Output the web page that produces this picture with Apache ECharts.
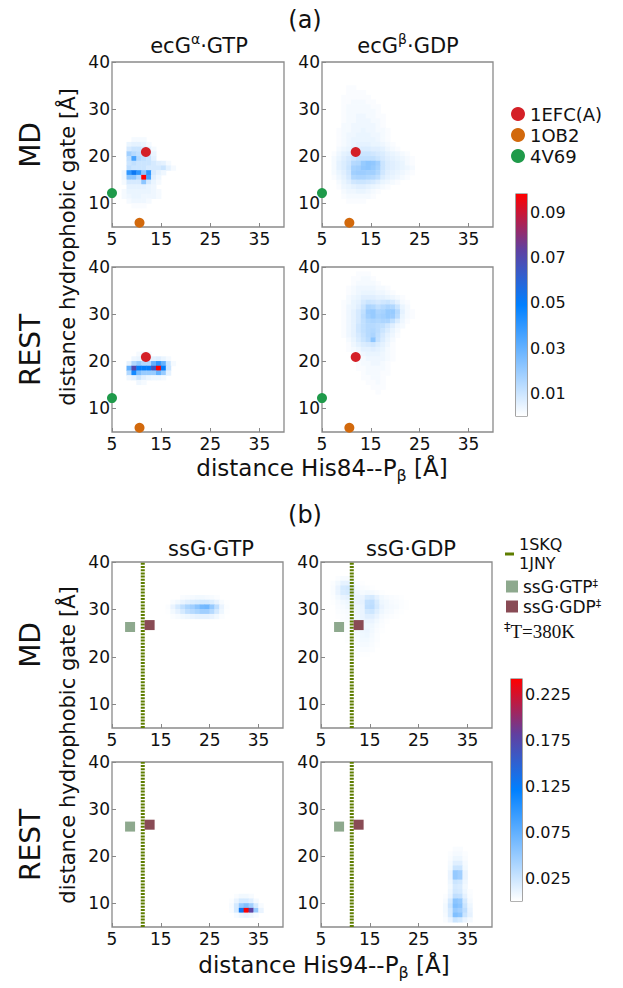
<!DOCTYPE html>
<html>
<head>
<meta charset="utf-8">
<title>hydrophobic gate distance maps</title>
<script src="https://cdn.jsdelivr.net/npm/echarts@6.0.0/dist/echarts.min.js"></script>
<style>
  html, body { margin: 0; padding: 0; background: #fff; }
  #chart { width: 623px; height: 988px; }
</style>
</head>
<body>
<div id="chart"></div>
<script>
// 1 A bins from 5 to 40 on both axes
const binStart = 5;
const binCount = 35;
const xTicks = [5, 15, 25, 35];
const yTicks = [10, 20, 30, 40];
const cbTicksA = [0.01, 0.03, 0.05, 0.07, 0.09];
const cbTicksB = [0.025, 0.075, 0.125, 0.175, 0.225];
const cbMaxA = 0.098;
const cbMaxB = 0.242;

// reference structures, part (a)
const ecgRefNames = ['1EFC(A)', '1OB2', '4V69'];
const ecgRefPoints = [[11.9, 20.9], [10.6, 5.9], [5.0, 12.2]];
// part (b)
const ssgLineName = '1SKQ\n1JNY';
const ssgLineX = 11.3;
const ssgRefNames = ['ssG·GTP‡', 'ssG·GDP‡'];
const ssgRefPoints = [[8.7, 26.3], [12.7, 26.7]];

// heat maps: rows top -> bottom, origin = [first x bin, top y bin]
const ecgAlphaMDOrigin = [7, 23];
const ecgAlphaMD = [
  [0, 0, .002, .002, .002, 0, 0, 0, 0, 0, 0],
  [0, .004, .005, .005, .004, .002, 0, 0, 0, 0, 0],
  [0, .008, .01, .01, .008, .005, .002, 0, 0, 0, 0],
  [0, .018, .014, .012, .01, .008, .004, 0, 0, 0, 0],
  [0, .012, .035, .014, .012, .01, .005, 0, 0, 0, 0],
  [0, .01, .012, .01, .01, .01, .008, .006, .005, .002, 0],
  [0, .012, .01, .01, .01, .008, .008, .008, .01, .005, .002],
  [.003, .04, .052, .04, .022, .04, .008, .005, .003, 0, 0],
  [.003, .022, .022, .014, .098, .035, .006, .003, 0, 0, 0],
  [.002, .008, .008, .008, .022, .008, .004, .002, 0, 0, 0],
  [0, .005, .005, .005, .005, .004, .003, 0, 0, 0, 0],
  [.002, .004, .004, .004, .004, .004, .003, .002, 0, 0, 0],
  [.002, .003, .004, .004, .003, .003, .003, .002, 0, 0, 0],
  [0, .002, .003, .003, .003, .002, 0, 0, 0, 0, 0],
  [0, 0, .001, .001, .001, 0, 0, 0, 0, 0, 0]
];

const ecgBetaMDOrigin = [7, 34];
const ecgBetaMD = [
  [0, 0, 0, .001, .001, 0, 0, 0, 0, 0, 0, 0, 0, 0, 0, 0, 0],
  [0, 0, 0, .001, .001, .001, .001, 0, 0, 0, 0, 0, 0, 0, 0, 0, 0],
  [0, 0, .001, .001, .001, .001, .001, .001, 0, 0, 0, 0, 0, 0, 0, 0, 0],
  [0, 0, .001, .001, .002, .002, .002, .001, .001, 0, 0, 0, 0, 0, 0, 0, 0],
  [0, 0, .001, .002, .002, .002, .002, .002, .001, .001, 0, 0, 0, 0, 0, 0, 0],
  [0, 0, .001, .002, .002, .002, .002, .002, .002, .001, 0, 0, 0, 0, 0, 0, 0],
  [0, 0, .001, .002, .002, .003, .003, .002, .002, .001, .001, 0, 0, 0, 0, 0, 0],
  [0, 0, .001, .002, .002, .003, .003, .003, .002, .002, .001, 0, 0, 0, 0, 0, 0],
  [0, 0, .002, .002, .003, .003, .003, .003, .003, .002, .001, 0, 0, 0, 0, 0, 0],
  [0, .001, .002, .002, .003, .003, .004, .003, .003, .002, .002, .001, 0, 0, 0, 0, 0],
  [0, .001, .002, .003, .003, .004, .004, .004, .003, .003, .002, .001, 0, 0, 0, 0, 0],
  [0, .001, .002, .003, .004, .004, .004, .004, .004, .003, .002, .001, 0, 0, 0, 0, 0],
  [0, .001, .002, .003, .004, .005, .005, .005, .004, .004, .003, .002, .001, 0, 0, 0, 0],
  [0, .002, .003, .004, .006, .006, .007, .007, .006, .006, .005, .003, .002, .001, 0, 0, 0],
  [.001, .003, .005, .006, .008, .009, .01, .01, .009, .008, .007, .005, .004, .003, .002, .001, 0],
  [.002, .004, .006, .008, .01, .012, .012, .012, .012, .01, .008, .006, .005, .004, .003, .002, .001],
  [.002, .005, .007, .009, .014, .015, .02, .022, .021, .018, .01, .007, .006, .005, .004, .002, .001],
  [.002, .005, .007, .01, .017, .018, .021, .022, .02, .017, .01, .007, .006, .005, .004, .003, .002],
  [.002, .004, .006, .009, .018, .019, .019, .018, .018, .015, .009, .006, .005, .004, .003, .002, .001],
  [.001, .003, .005, .008, .015, .016, .016, .015, .014, .012, .007, .005, .004, .003, .002, .001, 0],
  [0, .002, .004, .006, .009, .01, .01, .009, .008, .006, .004, .003, .002, .001, 0, 0, 0],
  [0, .001, .003, .004, .005, .006, .006, .005, .004, .003, .002, .001, 0, 0, 0, 0, 0],
  [0, 0, .002, .003, .003, .004, .004, .003, .002, .001, 0, 0, 0, 0, 0, 0, 0],
  [0, 0, .001, .002, .002, .002, .002, .002, .001, 0, 0, 0, 0, 0, 0, 0, 0],
  [0, 0, 0, .001, .001, .001, .001, 0, 0, 0, 0, 0, 0, 0, 0, 0, 0]
];

const ecgAlphaRESTOrigin = [7, 21];
const ecgAlphaREST = [
  [0, 0, 0, .002, .003, .002, 0, 0, 0, 0, 0],
  [0, 0, .003, .004, .004, .004, .005, .006, .004, .002, 0],
  [0, .005, .015, .02, .015, .015, .03, .04, .03, .01, .002],
  [0, .03, .07, .05, .05, .05, .065, .098, .05, .01, 0],
  [0, .015, .045, .025, .02, .02, .02, .03, .02, .005, 0],
  [0, .003, .005, .01, .006, .004, .003, .003, .002, 0, 0],
  [0, 0, 0, .003, .002, 0, 0, 0, 0, 0, 0]
];

const ecgBetaRESTOrigin = [9, 38];
const ecgBetaREST = [
  [0, 0, 0, .001, .001, .001, 0, 0, 0, 0, 0, 0, 0, 0, 0],
  [0, 0, .001, .001, .002, .002, .001, 0, 0, 0, 0, 0, 0, 0, 0],
  [0, 0, .001, .002, .002, .002, .002, .001, 0, 0, 0, 0, 0, 0, 0],
  [0, .001, .002, .003, .003, .003, .003, .002, .002, .001, 0, 0, 0, 0, 0],
  [0, .001, .002, .003, .004, .004, .004, .003, .003, .002, .001, 0, 0, 0, 0],
  [0, .002, .003, .004, .006, .006, .006, .005, .005, .004, .003, .002, .001, 0, 0],
  [.001, .002, .004, .005, .008, .01, .009, .008, .009, .01, .008, .005, .002, .001, 0],
  [.001, .003, .004, .006, .01, .016, .015, .012, .014, .016, .015, .01, .004, .002, 0],
  [.001, .003, .005, .008, .012, .019, .02, .016, .017, .02, .02, .014, .005, .002, .001],
  [.001, .003, .005, .008, .013, .018, .02, .017, .018, .02, .019, .013, .004, .002, .001],
  [.001, .003, .005, .008, .012, .015, .016, .015, .016, .016, .012, .007, .003, .001, 0],
  [.001, .003, .005, .009, .012, .014, .014, .013, .012, .009, .006, .003, .002, 0, 0],
  [.001, .003, .005, .009, .012, .014, .015, .013, .01, .007, .004, .002, 0, 0, 0],
  [.001, .003, .005, .008, .011, .014, .016, .012, .008, .005, .003, .001, 0, 0, 0],
  [0, .002, .004, .007, .01, .013, .022, .011, .007, .004, .002, 0, 0, 0, 0],
  [0, .001, .003, .005, .007, .008, .009, .007, .005, .003, .001, 0, 0, 0, 0],
  [0, .001, .002, .003, .005, .005, .006, .005, .004, .002, .001, 0, 0, 0, 0],
  [0, 0, .001, .002, .003, .004, .004, .004, .003, .002, .001, 0, 0, 0, 0],
  [0, 0, .001, .002, .002, .003, .003, .003, .003, .002, .001, 0, 0, 0, 0],
  [0, 0, 0, .001, .002, .002, .003, .003, .002, .001, 0, 0, 0, 0, 0],
  [0, 0, 0, .001, .001, .002, .002, .002, .002, .001, 0, 0, 0, 0, 0],
  [0, 0, 0, 0, .001, .002, .002, .002, .001, .001, 0, 0, 0, 0, 0],
  [0, 0, 0, 0, .001, .001, .002, .002, .001, 0, 0, 0, 0, 0, 0],
  [0, 0, 0, 0, 0, .001, .001, .002, .001, 0, 0, 0, 0, 0, 0],
  [0, 0, 0, 0, 0, 0, .001, .001, .001, 0, 0, 0, 0, 0, 0],
  [0, 0, 0, 0, 0, 0, 0, .001, 0, 0, 0, 0, 0, 0, 0]
];

const ssgGtpMDOrigin = [16, 32];
const ssgGtpMD = [
  [0, 0, 0, .003, .004, .005, .006, .006, .005, .004, .002, 0, 0],
  [0, .003, .006, .01, .014, .016, .018, .02, .02, .016, .01, .004, .001],
  [.002, .01, .02, .03, .04, .045, .055, .065, .068, .05, .03, .01, .002],
  [.001, .006, .012, .02, .03, .035, .04, .045, .045, .035, .02, .008, .001],
  [0, .002, .004, .006, .008, .01, .012, .012, .012, .01, .006, .002, 0]
];

const ssgGdpMDOrigin = [7, 36];
const ssgGdpMD = [
  [0, .002, .004, .004, .002, 0, 0, 0, 0, 0, 0, 0, 0, 0, 0, 0],
  [.002, .006, .012, .012, .008, .003, .001, 0, 0, 0, 0, 0, 0, 0, 0, 0],
  [.003, .01, .02, .022, .014, .005, .003, .002, .001, 0, 0, 0, 0, 0, 0, 0],
  [.003, .01, .018, .02, .015, .008, .005, .006, .005, .003, .001, 0, 0, 0, 0, 0],
  [.002, .006, .01, .012, .012, .01, .01, .018, .02, .012, .006, .004, .003, .002, .001, 0],
  [.001, .004, .006, .008, .01, .01, .012, .028, .03, .018, .008, .006, .004, .003, .002, .001],
  [0, .003, .004, .006, .008, .008, .01, .03, .032, .02, .01, .006, .005, .004, .002, .001],
  [0, .002, .003, .004, .006, .008, .01, .022, .024, .015, .008, .005, .004, .002, .001, 0],
  [0, .001, .002, .003, .005, .007, .01, .015, .015, .01, .005, .003, .002, .001, 0, 0],
  [0, 0, .002, .003, .005, .007, .009, .01, .01, .006, .003, .001, 0, 0, 0, 0],
  [0, 0, .001, .002, .004, .006, .008, .008, .007, .004, .002, 0, 0, 0, 0, 0],
  [0, 0, .001, .002, .004, .006, .008, .009, .006, .003, .001, 0, 0, 0, 0, 0],
  [0, 0, 0, .001, .003, .005, .007, .008, .005, .002, 0, 0, 0, 0, 0, 0],
  [0, 0, 0, .001, .002, .004, .006, .006, .004, .002, 0, 0, 0, 0, 0, 0],
  [0, 0, 0, 0, .002, .003, .005, .005, .003, .001, 0, 0, 0, 0, 0, 0],
  [0, 0, 0, 0, .001, .002, .003, .003, .002, 0, 0, 0, 0, 0, 0, 0],
  [0, 0, 0, 0, 0, .001, .001, .001, 0, 0, 0, 0, 0, 0, 0, 0]
];

const ssgGtpRESTOrigin = [29, 11];
const ssgGtpREST = [
  [0, .003, .006, .006, .004, 0, 0],
  [.002, .01, .02, .02, .015, .005, 0],
  [.004, .02, .05, .06, .045, .02, .004],
  [.003, .02, .13, .24, .18, .05, .01],
  [0, .004, .008, .01, .008, .004, 0]
];

const ssgGdpRESTOrigin = [30, 21];
const ssgGdpREST = [
  [0, 0, .003, .003, 0, 0],
  [0, .002, .005, .005, .002, 0],
  [0, .003, .008, .008, .003, 0],
  [0, .005, .015, .015, .005, 0],
  [0, .006, .025, .025, .006, 0],
  [0, .01, .05, .045, .01, 0],
  [0, .01, .05, .045, .01, 0],
  [0, .008, .025, .022, .008, 0],
  [0, .006, .02, .018, .006, 0],
  [0, .008, .022, .02, .008, .002],
  [.002, .01, .03, .028, .012, .003],
  [.004, .02, .055, .05, .02, .005],
  [.006, .025, .06, .055, .025, .008],
  [.006, .02, .05, .045, .03, .01],
  [.005, .02, .06, .055, .025, .012],
  [.003, .01, .025, .02, .01, .005]
];

const FONT = 'DejaVu Sans';
const cmap = ['#ffffff', '#80bfff', '#0080ff', '#6040a0', '#ff0000'];
const ecgColors = ['#d42027', '#d2690c', '#1f9a4a'];
const ssgColors = ['#8ea98e', '#894b55'];
const olive = '#5e7d00';

const bins = [];
for (let b = binStart; b < binStart + binCount; b++) bins.push(String(b));

function cells(rows, origin) {
  const out = [];
  rows.forEach((row, r) => {
    row.forEach((v, c) => {
      if (v > 0) out.push([origin[0] + c - binStart, origin[1] - r - binStart, v]);
    });
  });
  return out;
}

const panels = [
  { box: { left: 112, top: 62, width: 172, height: 165 }, rows: ecgAlphaMD, origin: ecgAlphaMDOrigin, part: 0 },
  { box: { left: 322, top: 62, width: 171, height: 165 }, rows: ecgBetaMD, origin: ecgBetaMDOrigin, part: 0 },
  { box: { left: 112, top: 267, width: 172, height: 165 }, rows: ecgAlphaREST, origin: ecgAlphaRESTOrigin, part: 0 },
  { box: { left: 322, top: 267, width: 171, height: 165 }, rows: ecgBetaREST, origin: ecgBetaRESTOrigin, part: 0 },
  { box: { left: 112, top: 562, width: 171, height: 166 }, rows: ssgGtpMD, origin: ssgGtpMDOrigin, part: 1 },
  { box: { left: 321, top: 562, width: 171, height: 166 }, rows: ssgGdpMD, origin: ssgGdpMDOrigin, part: 1 },
  { box: { left: 112, top: 762, width: 171, height: 165 }, rows: ssgGtpREST, origin: ssgGtpRESTOrigin, part: 1 },
  { box: { left: 321, top: 762, width: 171, height: 165 }, rows: ssgGdpREST, origin: ssgGdpRESTOrigin, part: 1 }
];

const grids = [], xAxes = [], yAxes = [], series = [];
const heatIdx = [[], []];

panels.forEach((p, i) => {
  grids.push(Object.assign({ show: true, borderColor: '#8a8a8a', borderWidth: 1.3 }, p.box));
  xAxes.push({
    type: 'value', gridIndex: i, min: 5, max: 40,
    axisLine: { show: false }, splitLine: { show: false },
    axisTick: { inside: true, length: 4, customValues: xTicks, lineStyle: { color: '#888' } },
    axisLabel: { customValues: xTicks, margin: 3, fontSize: 17, color: '#111', fontFamily: FONT }
  });
  xAxes.push({ type: 'category', gridIndex: i, data: bins, show: false });
  yAxes.push({
    type: 'value', gridIndex: i, min: 5, max: 40,
    axisLine: { show: false }, splitLine: { show: false },
    axisTick: { inside: true, length: 4, customValues: yTicks, lineStyle: { color: '#888' } },
    axisLabel: { customValues: yTicks, margin: 2, fontSize: 17, color: '#111', fontFamily: FONT }
  });
  yAxes.push({ type: 'category', gridIndex: i, data: bins, show: false });

  heatIdx[p.part].push(series.length);
  series.push({
    type: 'heatmap', xAxisIndex: 2 * i + 1, yAxisIndex: 2 * i + 1,
    data: cells(p.rows, p.origin), progressive: 0, z: 1,
    emphasis: { disabled: true }
  });

  if (p.part === 0) {
    ecgRefNames.forEach((name, k) => {
      series.push({
        type: 'scatter', name, xAxisIndex: 2 * i, yAxisIndex: 2 * i,
        data: [ecgRefPoints[k]], symbolSize: 10, clip: false, z: 5,
        itemStyle: { color: ecgColors[k], opacity: 1 }
      });
    });
  } else {
    series.push({
      type: 'line', name: ssgLineName, xAxisIndex: 2 * i, yAxisIndex: 2 * i,
      data: [[ssgLineX, 5], [ssgLineX, 40]], symbol: 'none', z: 3, color: olive,
      lineStyle: { color: olive, width: 4, type: [2, 1.2] }
    });
    ssgRefNames.forEach((name, k) => {
      series.push({
        type: 'scatter', name, xAxisIndex: 2 * i, yAxisIndex: 2 * i,
        data: [ssgRefPoints[k]], symbol: 'rect', symbolSize: 10, clip: false, z: 5,
        itemStyle: { color: ssgColors[k], opacity: 1 }
      });
    });
  }
});

// colour bars
const cbBoxes = [
  { left: 516, top: 194, width: 11, height: 222 },
  { left: 511, top: 679, width: 11, height: 222 }
];
const cbMax = [cbMaxA, cbMaxB];
const cbTicks = [cbTicksA, cbTicksB];
const gradStops = cmap.map((c, k) => ({ offset: k / (cmap.length - 1), color: c }));
cbBoxes.forEach((box, j) => {
  const gi = grids.length;
  grids.push(Object.assign({ show: true, borderColor: '#666', borderWidth: 1.2 }, box));
  xAxes.push({ type: 'category', gridIndex: gi, data: ['c'], show: false });
  yAxes.push({
    type: 'value', gridIndex: gi, min: 0, max: cbMax[j], position: 'right',
    axisLine: { show: false }, splitLine: { show: false },
    axisTick: { inside: true, length: 3, customValues: cbTicks[j], lineStyle: { color: '#333' } },
    axisLabel: { customValues: cbTicks[j], margin: 3, fontSize: 16, color: '#111', fontFamily: FONT }
  });
  series.push({
    type: 'bar', xAxisIndex: xAxes.length - 1, yAxisIndex: yAxes.length - 1,
    data: [cbMax[j]], barWidth: '100%', silent: true, z: 1,
    itemStyle: { color: new echarts.graphic.LinearGradient(0, 1, 0, 0, gradStops) }
  });
});

function label(text, x, y, size, extra) {
  return Object.assign({
    type: 'text', x, y,
    style: {
      text, fontSize: size, fontFamily: FONT, fill: '#111',
      align: 'center', verticalAlign: 'middle',
      rich: {
        sup: { fontSize: Math.round(size * 0.65), lineHeight: Math.round(size * 0.65), verticalAlign: 'top', fontFamily: FONT, fill: '#111' },
        sub: { fontSize: Math.round(size * 0.7), lineHeight: Math.round(size * 0.7), verticalAlign: 'bottom', fontFamily: FONT, fill: '#111' },
        base: { fontSize: size, lineHeight: Math.round(size * 1.35), fontFamily: FONT, fill: '#111' }
      }
    }
  }, extra || {});
}
const up = { rotation: Math.PI / 2 };

const graphics = [
  label('(a)', 305, 20, 24),
  label('{base|ecG}{sup|α}{base|·GTP}', 199, 46, 21),
  label('{base|ecG}{sup|β}{base|·GDP}', 408, 46, 21),
  label('MD', 30, 145, 28, up),
  label('REST', 30, 350, 28, up),
  label('distance hydrophobic gate [Å]', 68, 247, 21, up),
  label('{base|distance His84--P}{sub|β}{base| [Å]}', 322, 468, 23),
  label('(b)', 305, 515, 24),
  label('ssG·GTP', 211, 549, 21),
  label('ssG·GDP', 411, 549, 21),
  label('MD', 30, 645, 28, up),
  label('REST', 30, 845, 28, up),
  label('distance hydrophobic gate [Å]', 68, 745, 21, up),
  label('{base|distance His94--P}{sub|β}{base| [Å]}', 324, 965, 23),
  {
    type: 'text', x: 504, y: 631,
    style: {
      text: '{sup|‡}{t|T=380K}', fill: '#111', align: 'left', verticalAlign: 'middle',
      rich: {
        sup: { fontSize: 13, lineHeight: 13, verticalAlign: 'top', fontFamily: FONT, fill: '#111' },
        t: { fontSize: 19, lineHeight: 22, fontFamily: 'Liberation Serif', fill: '#111' }
      }
    }
  }
];

const option = {
  animation: false,
  backgroundColor: '#fff',
  grid: grids,
  xAxis: xAxes,
  yAxis: yAxes,
  visualMap: [
    { type: 'continuous', show: false, seriesIndex: heatIdx[0], dimension: 2, min: 0, max: cbMaxA, inRange: { color: cmap } },
    { type: 'continuous', show: false, seriesIndex: heatIdx[1], dimension: 2, min: 0, max: cbMaxB, inRange: { color: cmap } }
  ],
  legend: [
    {
      data: ecgRefNames, orient: 'vertical', left: 511, top: 105, padding: 0,
      icon: 'circle', itemWidth: 14, itemHeight: 14, itemGap: 3, selectedMode: false,
      textStyle: { fontSize: 18, lineHeight: 18, fontFamily: FONT, color: '#111' }
    },
    {
      data: [{ name: ssgLineName, icon: 'rect' }], orient: 'vertical', left: 505, top: 535, padding: 0,
      itemWidth: 9, itemHeight: 3, selectedMode: false,
      textStyle: { fontSize: 16, lineHeight: 19, fontFamily: FONT, color: '#111' }
    },
    {
      data: ssgRefNames, orient: 'vertical', left: 506, top: 578, padding: 0,
      icon: 'rect', itemWidth: 12, itemHeight: 12, itemGap: 3, selectedMode: false,
      formatter: name => name.replace('‡', '{sup|‡}'),
      textStyle: {
        fontSize: 17, lineHeight: 17, fontFamily: FONT, color: '#111',
        rich: { sup: { fontSize: 11, lineHeight: 11, verticalAlign: 'top', fontFamily: FONT, color: '#111' } }
      }
    }
  ],
  graphic: graphics,
  series: series
};

const chart = echarts.init(document.getElementById('chart'), null, { renderer: 'svg' });
chart.setOption(option);
window.addEventListener('resize', () => chart.resize());
</script>
</body>
</html>
